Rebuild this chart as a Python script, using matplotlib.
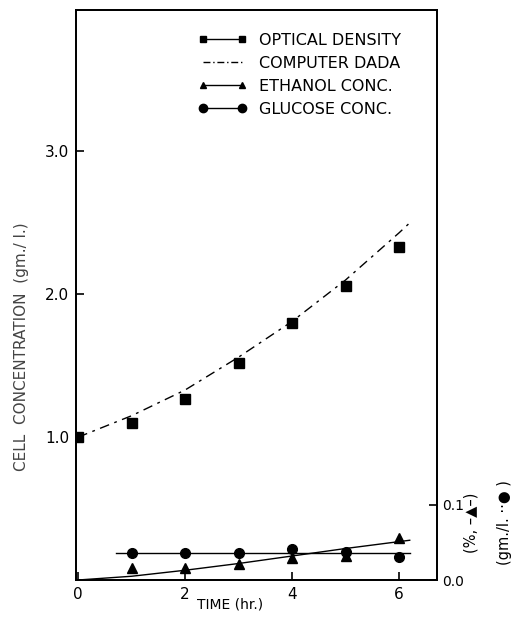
import matplotlib
matplotlib.use("Agg")
import matplotlib.pyplot as plt
from matplotlib.lines import Line2D

# ---- data ----
time_hr = [0, 1, 2, 3, 4, 5, 6]
optical_density = [1.00, 1.10, 1.27, 1.52, 1.80, 2.06, 2.33]

computer_time = [0, 1, 2, 3, 4, 5, 6, 6.2]
computer_data = [1.00, 1.15, 1.33, 1.56, 1.81, 2.10, 2.43, 2.50]

conc_time = [1, 2, 3, 4, 5, 6]
ethanol_conc = [0.016, 0.016, 0.022, 0.029, 0.032, 0.056]
glucose_conc = [0.036, 0.036, 0.036, 0.041, 0.037, 0.031]

ethanol_fit_time = [0, 1, 2, 3, 4, 5, 6.2]
ethanol_fit = [0.000, 0.005, 0.013, 0.022, 0.032, 0.042, 0.053]
glucose_fit_time = [0.7, 6.2]
glucose_fit = [0.036, 0.036]

x_ticks = [0, 2, 4, 6]
left_ticks = [1.0, 2.0, 3.0]
right_ticks = [0.0, 0.1]

plt.rcParams['font.family'] = ['DejaVu Sans']

fig = plt.figure(figsize=(5.19, 6.22), dpi=100)
ax = fig.add_axes([76/519, 42/622, 361/519, 570/622])
ax2 = ax.twinx()

ax.set_xlim(-0.04, 6.71)
ax.set_ylim(0, 3.99)
ax2.set_ylim(0, 0.76)

# upper curves
ax.plot(time_hr, optical_density, linestyle='none', marker='s', ms=6.5,
        color='black', zorder=3)
ax.plot(computer_time, computer_data, color='black', lw=1.0,
        linestyle=(0, (7, 4, 2, 4)))

# lower curves (right axis)
ax2.plot(ethanol_fit_time, ethanol_fit, color='black', lw=1.0)
ax2.plot(glucose_fit_time, glucose_fit, color='black', lw=1.0)
ax2.plot(conc_time, ethanol_conc, linestyle='none', marker='^', ms=6.5,
         color='black')
ax2.plot(conc_time, glucose_conc, linestyle='none', marker='o', ms=7,
         color='black')

# ticks
ax.set_xticks(x_ticks)
ax.set_xticklabels([str(t) for t in x_ticks])
ax.set_yticks(left_ticks)
ax.set_yticklabels([f"{v:.1f}" for v in left_ticks])
ax2.set_yticks(right_ticks)
ax2.set_yticklabels([f"{v:.1f}" for v in right_ticks])

ax.tick_params(axis='both', direction='in', length=6, width=1.2,
               labelsize=11, pad=5, top=False)
ax2.tick_params(axis='y', direction='in', length=6, width=1.2,
                labelsize=10, pad=4)

for a in (ax, ax2):
    for s in a.spines.values():
        s.set_linewidth(1.3)

ax.set_xlabel("TIME (hr.)", fontsize=10)
ax.xaxis.set_label_coords(0.427, -0.03)
ax.set_ylabel("CELL  CONCENTRATION  (gm./ l.)", fontsize=11, color='#444444')
ax.yaxis.set_label_coords(-0.13, 0.41)

ax2.set_ylabel("(%, –▲–)\n(gm./l. ··● )", fontsize=10.5, linespacing=2.5)
ax2.yaxis.set_label_coords(1.074, 0.10)

# legend (proxy styles)
handles = [
    Line2D([], [], color='black', lw=1.0, marker='s', ms=5),
    Line2D([], [], color='black', lw=1.0, linestyle=(0, (5, 2, 1, 2))),
    Line2D([], [], color='black', lw=1.0, marker='^', ms=5),
    Line2D([], [], color='black', lw=1.0, marker='o', ms=6),
]
labels = ["OPTICAL DENSITY", "COMPUTER DADA", "ETHANOL CONC.", "GLUCOSE CONC."]
ax.legend(handles, labels, loc='upper left', bbox_to_anchor=(0.30, 0.985),
          frameon=False, numpoints=2, handlelength=3.0, handletextpad=0.8,
          fontsize=11.5, labelspacing=0.5)

fig.savefig("out.png", dpi=100)
